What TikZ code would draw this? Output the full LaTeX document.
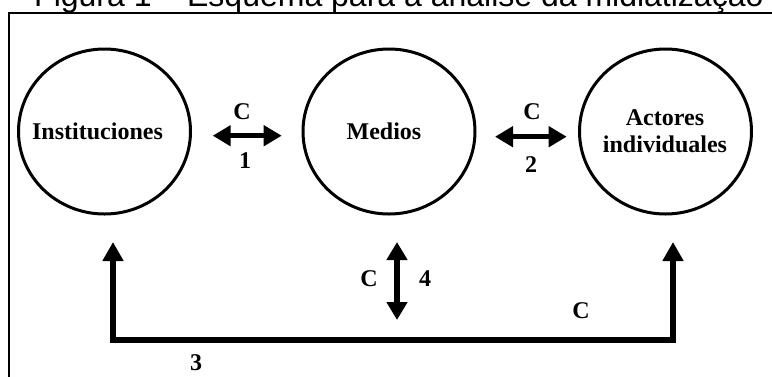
\documentclass[tikz,border=0pt]{standalone}
\usepackage{fontspec}
\setmainfont{Liberation Serif}
\newfontfamily\titlefont{Liberation Sans}
\usetikzlibrary{arrows.meta,shapes.geometric}
\tikzset{
  actor/.style={ellipse, draw, line width=3pt, minimum width=172pt, minimum height=165pt, inner sep=0pt},
  lbl/.style={font=\bfseries\fontsize{24}{27}\selectfont, inner sep=0pt},
  thickarrow/.style={line width=5.5pt, {Triangle[length=18pt,width=20pt]}-{Triangle[length=18pt,width=20pt]}},
}
\begin{document}
\begin{tikzpicture}[x=1pt,y=-1pt]
\useasboundingbox (0,0) rectangle (772,376);
\clip (0,0) rectangle (772,376);
% title (cut at the top) and frame
\node[anchor=base west, inner sep=0pt, font=\titlefont\fontsize{32}{38}\selectfont] (title) at (34,6.5) {Figura 1 – Esquema para a análise da midiatização};
\draw[line width=1.2pt] (9,420) -- (9,13) -- (800,13);
% circles
\node[actor] (inst) at (104.5,131.5) {};
\node[actor] (med) at (389,131.5) {};
\node[actor] (act) at (665.5,131.5) {};
% circle texts
\node[lbl, anchor=base] (tinst) at (97.5,139) {Instituciones};
\node[lbl, anchor=base] (tmed) at (384,139) {Medios};
\node[lbl, align=center, anchor=center] (tact) at (665,131.5) {Actores\\individuales};
% horizontal double arrows
\coordinate (a1l) at (212.7,135.7);
\coordinate (a1r) at (281.7,135.7);
\coordinate (a2l) at (495,136.7);
\coordinate (a2r) at (566.7,136.7);
\draw[thickarrow] (a1l) -- (a1r);
\draw[thickarrow] (a2l) -- (a2r);
\node[lbl] (c1) at (242,112) {C};
\node[lbl] (n1) at (245,160.5) {1};
\node[lbl] (c2) at (532,112) {C};
\node[lbl] (n2) at (531,165) {2};
% bottom connector
\coordinate (lt) at (113,242);
\coordinate (lb) at (113,340);
\coordinate (rb) at (673,340);
\coordinate (rt) at (673,242);
\draw[line width=5.5pt, {Triangle[length=19pt,width=20pt]}-{Triangle[length=19pt,width=20pt]}, line join=miter] (lt) -- (lb) -- (rb) -- (rt);
% middle vertical double arrow
\coordinate (mt) at (397,242);
\coordinate (mb) at (397,320);
\draw[thickarrow] (mt) -- (mb);
\node[lbl] (c4) at (369,279) {C};
\node[lbl] (n4) at (425,279) {4};
\node[lbl] (c3) at (581,311) {C};
\node[lbl] (n3) at (196,363) {3};
\end{tikzpicture}
\end{document}
